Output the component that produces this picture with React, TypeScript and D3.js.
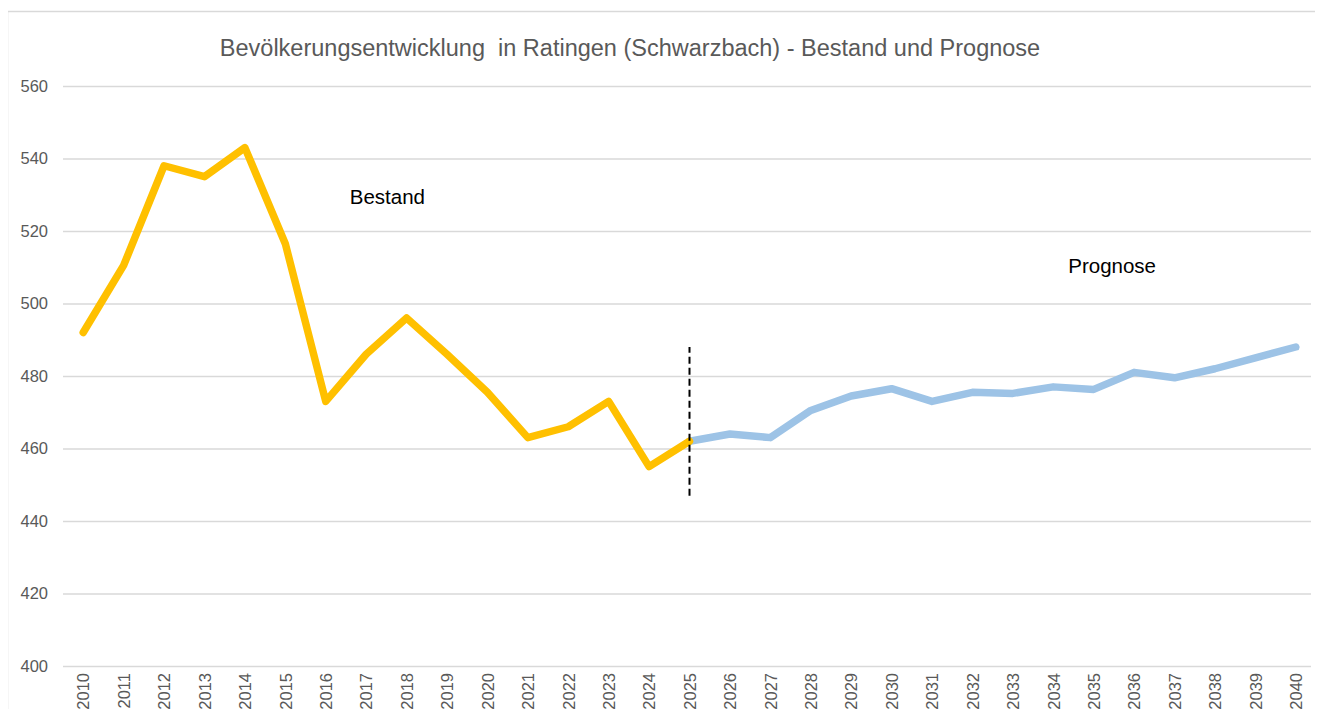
import React, { useEffect, useRef } from "react";
import * as d3 from "d3";

const years = d3.range(2010, 2041).map(String);

const bestandYears = years.slice(0, 16);
const bestandValues = [492, 510.5, 538, 535, 543, 516.5, 473, 486, 496, 486, 475.5, 463, 466, 473, 455, 462];

const prognoseYears = years.slice(15);
const prognoseValues = [462, 464, 463, 470.5, 474.5, 476.5, 473, 475.5, 475.2, 477, 476.3, 481, 479.5, 482, 485, 488];

const yTicks = [400, 420, 440, 460, 480, 500, 520, 540, 560];
const markerYear = "2025";
const markerRange = [447, 488];

const title = "Bevölkerungsentwicklung  in Ratingen (Schwarzbach) - Bestand und Prognose";

const W = 1323;
const H = 717;
const font = "'Liberation Sans', Arial, sans-serif";

const App = () => {
  const ref = useRef(null);

  useEffect(() => {
    const svg = d3.select(ref.current);
    svg.selectAll("*").remove();

    const margin = { left: 63, right: 12, top: 86, bottom: 51 };
    const innerWidth = W - margin.left - margin.right;
    const innerHeight = H - margin.top - margin.bottom;

    // frame of the chart area
    svg.append("rect")
      .attr("x", 7.5).attr("y", 11.5)
      .attr("width", W + 20).attr("height", H + 20)
      .attr("fill", "none").attr("stroke", "#d9d9d9").attr("stroke-width", 1.5);

    svg.append("text")
      .attr("x", 630).attr("y", 56)
      .attr("text-anchor", "middle")
      .attr("fill", "#595959")
      .style("white-space", "pre")
      .style("font-family", font).style("font-size", "23.5px")
      .text(title);

    const g = svg.append("g").attr("transform", `translate(${margin.left},${margin.top})`);

    // categories sit a touch wider than the gridlines, like in the original
    const xScale = d3.scalePoint().domain(years).range([0, innerWidth + 5]).padding(0.5);
    const yScale = d3.scaleLinear().domain([400, 560]).range([innerHeight, 0]);

    const yAxis = d3.axisLeft(yScale).tickValues(yTicks).tickSize(-innerWidth).tickPadding(15);
    const yAxisG = g.append("g").call(yAxis);
    yAxisG.select(".domain").remove();
    yAxisG.selectAll("line").attr("stroke", "#d9d9d9").attr("stroke-width", 1.5);
    yAxisG.selectAll("text")
      .attr("fill", "#595959")
      .style("font-family", font).style("font-size", "16.5px");

    const xAxis = d3.axisBottom(xScale).tickSize(0).tickPadding(0);
    const xAxisG = g.append("g").attr("transform", `translate(0,${innerHeight})`).call(xAxis);
    xAxisG.select(".domain").remove();
    xAxisG.selectAll("text")
      .attr("fill", "#595959")
      .attr("transform", "rotate(-90)")
      .attr("text-anchor", "end")
      .attr("x", -7).attr("y", 0).attr("dy", "0.35em")
      .style("font-family", font).style("font-size", "16.5px");

    const line = d3.line()
      .x(d => xScale(d[0]))
      .y(d => yScale(d[1]));

    g.append("path")
      .attr("d", line(prognoseYears.map((y, i) => [y, prognoseValues[i]])))
      .attr("fill", "none").attr("stroke", "#9dc3e6").attr("stroke-width", 7.5)
      .attr("stroke-linejoin", "round").attr("stroke-linecap", "round");

    g.append("path")
      .attr("d", line(bestandYears.map((y, i) => [y, bestandValues[i]])))
      .attr("fill", "none").attr("stroke", "#ffc000").attr("stroke-width", 7.5)
      .attr("stroke-linejoin", "round").attr("stroke-linecap", "round");

    g.append("line")
      .attr("x1", xScale(markerYear)).attr("x2", xScale(markerYear))
      .attr("y1", yScale(markerRange[0])).attr("y2", yScale(markerRange[1]))
      .attr("stroke", "#000").attr("stroke-width", 2).attr("stroke-dasharray", "7,4");

    g.append("text")
      .attr("x", xScale("2016") + 24).attr("y", yScale(527.5))
      .attr("fill", "#000")
      .style("font-family", font).style("font-size", "20.5px")
      .text("Bestand");

    g.append("text")
      .attr("x", xScale("2034") + 15).attr("y", yScale(508.5))
      .attr("fill", "#000")
      .style("font-family", font).style("font-size", "20.5px")
      .text("Prognose");
  }, []);

  return (
    <div style={{ margin: -8 }}>
      <svg width={W} height={H} ref={ref} style={{ display: "block", background: "#fff" }} />
    </div>
  );
};

export default App;
